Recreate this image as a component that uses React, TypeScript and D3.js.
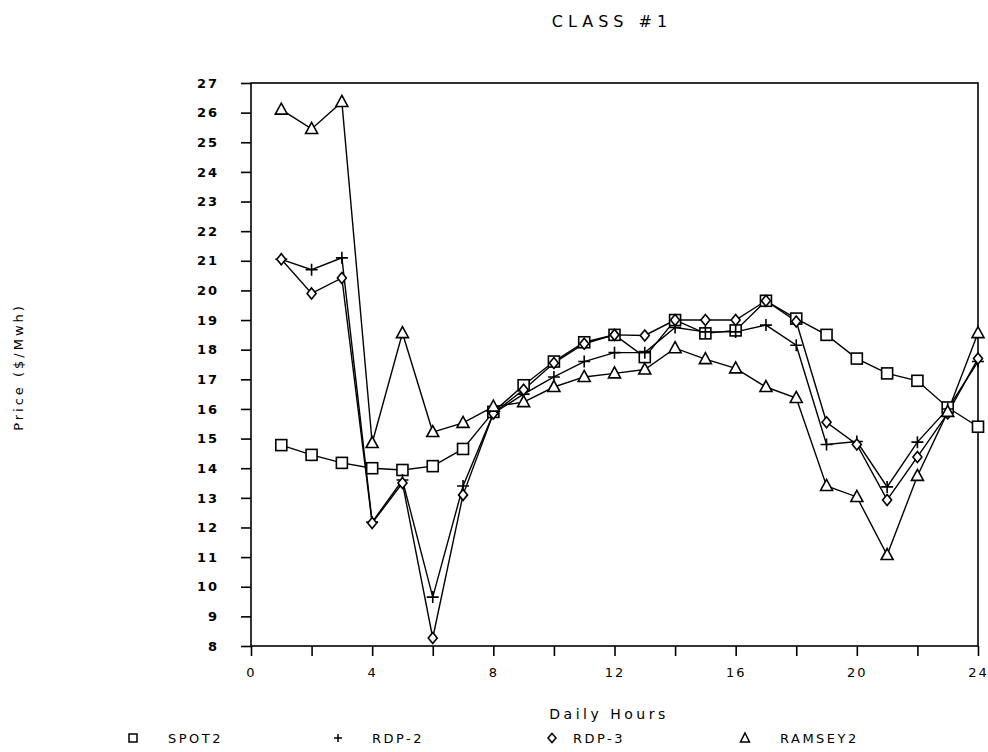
import React, { useEffect, useRef } from "react";
import * as d3 from "d3";

const hours = [1, 2, 3, 4, 5, 6, 7, 8, 9, 10, 11, 12, 13, 14, 15, 16, 17, 18, 19, 20, 21, 22, 23, 24];

const spot2 = [14.78, 14.45, 14.18, 14.0, 13.94, 14.07, 14.65, 15.9, 16.8, 17.6, 18.25, 18.5, 17.75, 19.0, 18.55, 18.65, 19.65, 19.05, 18.5, 17.7, 17.2, 16.95, 16.05, 15.4];
const rdp2 = [21.05, 20.7, 21.1, 12.18, 13.6, 9.65, 13.4, 15.85, 16.5, 17.08, 17.6, 17.9, 17.9, 18.75, 18.6, 18.6, 18.83, 18.15, 14.8, 14.9, 13.37, 14.88, 16.0, 17.6];
const rdp3 = [21.05, 19.9, 20.42, 12.15, 13.5, 8.27, 13.1, 15.85, 16.65, 17.55, 18.2, 18.5, 18.48, 19.0, 19.0, 19.0, 19.65, 18.95, 15.55, 14.8, 12.93, 14.38, 15.85, 17.7];
const ramsey2 = [26.1, 25.45, 26.36, 14.85, 18.56, 15.22, 15.53, 16.08, 16.23, 16.74, 17.08, 17.2, 17.33, 18.05, 17.68, 17.37, 16.74, 16.37, 13.4, 13.03, 11.07, 13.74, 15.9, 18.56];

const seriesNames = ["SPOT2", "RDP-2", "RDP-3", "RAMSEY2"];
const xTicks = [0, 2, 4, 6, 8, 10, 12, 14, 16, 18, 20, 22, 24];
const xLabels = [0, 4, 8, 12, 16, 20, 24];
const yTicks = [8, 9, 10, 11, 12, 13, 14, 15, 16, 17, 18, 19, 20, 21, 22, 23, 24, 25, 26, 27];

const FONT = "'DejaVu Sans', sans-serif";

function drawMarker(g: any, kind: string, x: number, y: number) {
  if (kind === "square") {
    g.append("rect").attr("x", x - 5.5).attr("y", y - 5.5).attr("width", 11).attr("height", 11)
      .attr("fill", "#fff").attr("stroke", "#000").attr("stroke-width", 1.6);
  } else if (kind === "plus") {
    g.append("path").attr("d", `M${x - 6},${y}H${x + 6}M${x},${y - 6}V${y + 6}`)
      .attr("stroke", "#000").attr("stroke-width", 1.6).attr("fill", "none");
  } else if (kind === "diamond") {
    g.append("path").attr("d", `M${x},${y - 5.5}L${x + 4.5},${y}L${x},${y + 5.5}L${x - 4.5},${y}Z`)
      .attr("fill", "#fff").attr("stroke", "#000").attr("stroke-width", 1.6);
  } else {
    g.append("path").attr("d", `M${x},${y - 6.5}L${x + 6},${y + 4.5}L${x - 6},${y + 4.5}Z`)
      .attr("fill", "#fff").attr("stroke", "#000").attr("stroke-width", 1.6);
  }
}

export default function App() {
  const ref = useRef<SVGSVGElement>(null);

  useEffect(() => {
    const svg = d3.select(ref.current);
    svg.selectAll("*").remove();

    const left = 251, right = 978, top = 83, bottom = 646;
    const x = d3.scaleLinear().domain([0, 24]).range([left, right]);
    const y = d3.scaleLinear().domain([8, 27]).range([bottom, top]);

    // title
    svg.append("text").attr("x", 612).attr("y", 27).attr("text-anchor", "middle")
      .attr("font-family", FONT).attr("font-size", 16).attr("letter-spacing", 5)
      .text("CLASS #1");

    // frame
    svg.append("rect").attr("x", left).attr("y", top).attr("width", right - left).attr("height", bottom - top)
      .attr("fill", "none").attr("stroke", "#000").attr("stroke-width", 1.6);

    // y axis
    const yAxis = svg.append("g").attr("transform", `translate(${left},0)`)
      .call(d3.axisLeft(y).tickValues(yTicks).tickSize(10).tickPadding(22).tickFormat(d3.format("d")));
    yAxis.select(".domain").remove();
    yAxis.selectAll("line").attr("stroke-width", 1.6);
    yAxis.selectAll("text").attr("font-family", FONT).attr("font-size", 13)
      .attr("font-weight", "bold").attr("letter-spacing", 2);

    // x axis
    const xAxis = svg.append("g").attr("transform", `translate(0,${bottom})`)
      .call(d3.axisBottom(x).tickValues(xTicks).tickSize(10).tickPadding(12)
        .tickFormat((d: any) => (xLabels.includes(+d) ? String(d) : "")));
    xAxis.select(".domain").remove();
    xAxis.selectAll("line").attr("stroke-width", 1.6);
    xAxis.selectAll("text").attr("font-family", FONT).attr("font-size", 13).attr("letter-spacing", 2);

    // axis titles
    svg.append("text").attr("x", 609).attr("y", 719).attr("text-anchor", "middle")
      .attr("font-family", FONT).attr("font-size", 14).attr("letter-spacing", 3.5)
      .text("Daily Hours");
    svg.append("text").attr("transform", "translate(23,367) rotate(-90)").attr("text-anchor", "middle")
      .attr("font-family", FONT).attr("font-size", 13).attr("letter-spacing", 3)
      .text("Price ($/Mwh)");

    const series = [
      { name: seriesNames[0], values: spot2, kind: "square" },
      { name: seriesNames[1], values: rdp2, kind: "plus" },
      { name: seriesNames[2], values: rdp3, kind: "diamond" },
      { name: seriesNames[3], values: ramsey2, kind: "triangle" },
    ];

    const line = d3.line<number>().x((_, i) => x(hours[i])).y((d) => y(d));

    series.forEach((s) => {
      svg.append("path").attr("d", line(s.values) as string).attr("fill", "none")
        .attr("stroke", "#000").attr("stroke-width", 1.4);
    });
    series.forEach((s) => {
      const g = svg.append("g");
      s.values.forEach((v, i) => drawMarker(g, s.kind, x(hours[i]), y(v)));
    });

    // legend
    const legendX = [133, 338, 552, 745];
    const legendG = svg.append("g");
    series.forEach((s, i) => {
      const lx = legendX[i];
      if (s.kind === "square") {
        legendG.append("rect").attr("x", lx - 4).attr("y", 734).attr("width", 8).attr("height", 8)
          .attr("fill", "none").attr("stroke", "#000").attr("stroke-width", 1.5);
      } else if (s.kind === "plus") {
        legendG.append("path").attr("d", `M${lx - 4},738H${lx + 4}M${lx},734V742`)
          .attr("stroke", "#000").attr("stroke-width", 1.5);
      } else if (s.kind === "diamond") {
        legendG.append("path").attr("d", `M${lx},733.5L${lx + 4},738L${lx},742.5L${lx - 4},738Z`)
          .attr("fill", "none").attr("stroke", "#000").attr("stroke-width", 1.5);
      } else {
        legendG.append("path").attr("d", `M${lx},733L${lx + 4.5},742L${lx - 4.5},742Z`)
          .attr("fill", "none").attr("stroke", "#000").attr("stroke-width", 1.5);
      }
      legendG.append("text").attr("x", lx + [35, 34, 21, 35][i]).attr("y", 743)
        .attr("font-family", FONT).attr("font-size", 13).attr("letter-spacing", 2.5)
        .text(s.name);
    });
  }, []);

  return (
    <svg ref={ref} width={988} height={752}
      style={{ position: "absolute", left: 0, top: 0, background: "#fff" }} />
  );
}
